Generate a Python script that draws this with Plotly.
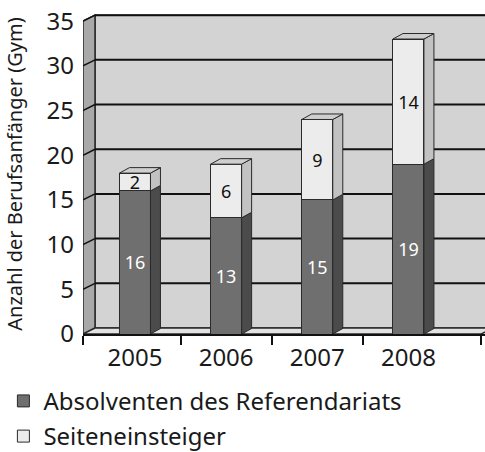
import plotly.graph_objects as go

# ---- data ----
years = ["2005", "2006", "2007", "2008"]
absolventen = [16, 13, 15, 19]
seiteneinsteiger = [2, 6, 9, 14]
y_ticks = [0, 5, 10, 15, 20, 25, 30, 35]
series_names = ["Absolventen des Referendariats", "Seiteneinsteiger"]
y_title = "Anzahl der Berufsanfänger (Gym)"

# ---- layout constants ----
W, H = 485, 452
ML, MR, MT, MB = 83, 0, 14, 118
XR = [-0.57, 3.84]
YR = [0, 35.8]
px_x = (W - ML - MR) / (XR[1] - XR[0])
px_y = (H - MT - MB) / (YR[1] - YR[0])
DXW, DYW = 12 / px_x, 6 / px_y      # wall depth
DXB, DYB = 10 / px_x, 5.5 / px_y    # bar depth
BW = 31 / px_x                      # bar width
X0, X1 = XR[0], 3.80                # front floor edge
YMAX = y_ticks[-1]

C_WALL, C_SIDE, C_FLOOR = "#d3d3d3", "#a9a9a9", "#e2e2e2"
C_DARK, C_DARK_S = "#6f6f6f", "#4b4b4b"
C_LIGHT, C_LIGHT_S, C_TOP = "#ececec", "#c2c2c2", "#cfcfcf"
EDGE = "#2a2a2a"
FONT = "Noto Sans"

xs = list(range(len(years)))
fig = go.Figure()

# front faces of bars
fig.add_trace(go.Bar(x=xs, y=absolventen, width=BW, name=series_names[0],
                     legendgroup="a",
                     marker=dict(color=C_DARK, line=dict(color=EDGE, width=1)),
                     text=[str(v) for v in absolventen], textposition="inside",
                     insidetextanchor="middle", textangle=0, constraintext="none",
                     textfont=dict(color="white", size=18, family=FONT),
                     hoverinfo="skip"))
fig.add_trace(go.Bar(x=xs, y=seiteneinsteiger, width=BW, name=series_names[1],
                     legendgroup="b",
                     marker=dict(color=C_LIGHT, line=dict(color=EDGE, width=1)),
                     text=[str(v) for v in seiteneinsteiger], textposition="inside",
                     insidetextanchor="middle", textangle=0, constraintext="none",
                     textfont=dict(color="#111111", size=18, family=FONT),
                     hoverinfo="skip"))

# side and top faces computed from data
def side_poly(xr, y0, y1):
    return [xr, xr + DXB, xr + DXB, xr, xr, None], [y0, y0 + DYB, y1 + DYB, y1, y0, None]

dsx, dsy, lsx, lsy, tx, ty = [], [], [], [], [], []
for i, (a, b) in enumerate(zip(absolventen, seiteneinsteiger)):
    xl, xr = i - BW / 2, i + BW / 2
    px_, py_ = side_poly(xr, 0, a); dsx += px_; dsy += py_
    px_, py_ = side_poly(xr, a, a + b); lsx += px_; lsy += py_
    T = a + b
    tx += [xl, xl + DXB, xr + DXB, xr, xl, None]
    ty += [T, T + DYB, T + DYB, T, T, None]

for sx, sy, col in [(dsx, dsy, C_DARK_S), (lsx, lsy, C_LIGHT_S), (tx, ty, C_TOP)]:
    fig.add_trace(go.Scatter(x=sx, y=sy, mode="lines", fill="toself", fillcolor=col,
                             line=dict(color=EDGE, width=1), showlegend=False,
                             hoverinfo="skip"))

# walls, floor and gridlines (behind)
shapes = []
def poly(pts, fill, lw=1, lc=EDGE):
    path = "M " + " L ".join(f"{x},{y}" for x, y in pts) + " Z"
    shapes.append(dict(type="path", path=path, xref="x", yref="y", layer="below",
                       fillcolor=fill, line=dict(color=lc, width=lw)))

poly([(X0 + DXW, DYW), (X1 + DXW + 1, DYW), (X1 + DXW + 1, YMAX + DYW), (X0 + DXW, YMAX + DYW)], C_WALL, 1.5)
poly([(X0, 0), (X0 + DXW, DYW), (X0 + DXW, YMAX + DYW), (X0, YMAX)], C_SIDE, 1.5)
poly([(X0, 0), (X0 + DXW, DYW), (X1 + DXW, DYW), (X1, 0)], C_FLOOR, 1.5)
for v in y_ticks[1:]:
    shapes.append(dict(type="line", xref="x", yref="y", layer="below",
                       x0=X0 + DXW, x1=X1 + DXW + 1, y0=v + DYW, y1=v + DYW,
                       line=dict(color="#111111", width=2)))
    shapes.append(dict(type="line", xref="x", yref="y", layer="below",
                       x0=X0, x1=X0 + DXW, y0=v, y1=v + DYW,
                       line=dict(color="#111111", width=1.5)))

fig.update_layout(
    width=W, height=H, margin=dict(l=ML, r=MR, t=MT, b=MB, autoexpand=False),
    paper_bgcolor="white", plot_bgcolor="rgba(0,0,0,0)",
    barmode="stack", shapes=shapes,
    font=dict(family=FONT, color="#1a1a1a"),
    xaxis=dict(range=XR, tickvals=xs, ticktext=years, ticks="", showgrid=False,
               zeroline=False, showline=True, linecolor="#111111", linewidth=2,
               automargin=False,
               tickfont=dict(size=24, family=FONT), ticklabelstandoff=1,
               minor=dict(tickvals=[XR[0] + 0.005, 0.5, 1.5, 2.5, X1], ticks="outside",
                          ticklen=9, tickwidth=2, tickcolor="#111111", showgrid=False)),
    yaxis=dict(range=YR, tickvals=y_ticks, ticks="", showgrid=False, zeroline=False,
               showline=False, automargin=False,
               tickfont=dict(size=24, family=FONT), ticklabelstandoff=8,
               title=dict(text=y_title, font=dict(size=20, family=FONT), standoff=18)),
    legend=dict(orientation="v", x=-0.198, xanchor="left", y=-0.14, yanchor="top",
                traceorder="grouped", tracegroupgap=1, font=dict(size=24, family=FONT),
                bgcolor="rgba(0,0,0,0)", itemwidth=30, borderwidth=0),
    showlegend=True,
)

fig.write_html("out.html", config={"displayModeBar": False},
               post_script="document.body.style.margin='0px';")
